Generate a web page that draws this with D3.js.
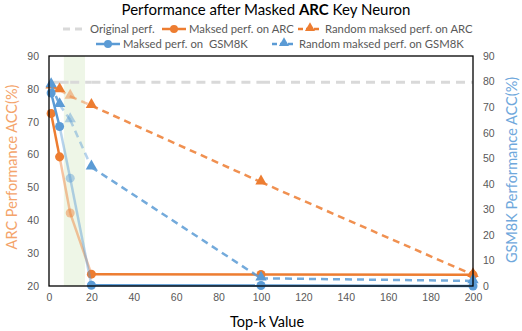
<!DOCTYPE html>
<html>
<head>
<meta charset="utf-8">
<script src="https://cdn.jsdelivr.net/npm/d3@7"></script>
<style>
  body { margin: 0; background: #fff; }
  svg { font-family: Lato, "Open Sans", sans-serif; }
</style>
</head>
<body>
<div id="chart"></div>
<script>
// data
var topK = [1, 5, 10, 20, 100, 200],
    originalPerf = [82, 82, 82, 82, 82, 82],
    maskedArc = [72.5, 59.3, 42.2, 23.6, 23.5, 23.4],
    randomArc = [80.8, 79.7, 77.7, 74.9, 51.6, 23.4],
    maskedGsm = [75.5, 62.4, 42.2, 0.3, 0.2, 0],
    randomGsm = [78.7, 70.9, 65.0, 46.5, 3.0, 2.0],
    highlightBand = [7, 17],
    fadedPoints = [10],
    fadedSegmentEnds = [10, 20],
    xTicks = d3.range(0, 201, 20),
    leftTicks = d3.range(20, 91, 10),
    rightTicks = d3.range(0, 91, 10);

var width = 522, height = 331,
    margin = {top: 56, right: 49, bottom: 45, left: 49},
    orange = '#ed7d31', blue = '#5b9bd5', grey = '#595959';

var svg = d3.select('#chart').append('svg')
    .attr('width', width)
    .attr('height', height);

var x = d3.scaleLinear().domain([0, 200]).range([margin.left, width - margin.right]),
    yLeft = d3.scaleLinear().domain([20, 90]).range([height - margin.bottom, margin.top]),
    yRight = d3.scaleLinear().domain([0, 90]).range([height - margin.bottom, margin.top]);

// green highlight band
svg.append('rect')
    .attr('x', x(highlightBand[0]))
    .attr('y', margin.top)
    .attr('width', x(highlightBand[1]) - x(highlightBand[0]))
    .attr('height', height - margin.bottom - margin.top)
    .attr('fill', '#eef6e7');

// axes (labels only, no tick marks)
var xAxis = svg.append('g')
    .attr('transform', 'translate(0,' + (height - margin.bottom) + ')')
    .call(d3.axisBottom(x).tickValues(xTicks).tickSize(0).tickPadding(8));
var lAxis = svg.append('g')
    .attr('transform', 'translate(' + margin.left + ',0)')
    .call(d3.axisLeft(yLeft).tickValues(leftTicks).tickSize(0).tickPadding(10));
var rAxis = svg.append('g')
    .attr('transform', 'translate(' + (width - margin.right) + ',0)')
    .call(d3.axisRight(yRight).tickValues(rightTicks).tickSize(0).tickPadding(10));
[xAxis, lAxis, rAxis].forEach(function(a) {
    a.select('.domain').remove();
    a.selectAll('text').attr('fill', grey).style('font-size', '10.5px').style('font-family', 'inherit');
});

// series
var series = [
    {name: 'Original perf.', values: originalPerf, y: yLeft, color: '#d9d9d9', dash: '9,6', marker: null, width: 3},
    {name: 'Maksed perf. on ARC', values: maskedArc, y: yLeft, color: orange, dash: null, marker: 'circle', width: 2.5},
    {name: 'Random maksed perf. on ARC', values: randomArc, y: yLeft, color: orange, dash: '7,5', marker: 'triangle', width: 2.5, lineOpacity: 0.85},
    {name: 'Maksed perf. on  GSM8K', values: maskedGsm, y: yRight, color: blue, dash: null, marker: 'circle', width: 2.5},
    {name: 'Random maksed perf. on GSM8K', values: randomGsm, y: yRight, color: blue, dash: '7,5', marker: 'triangle', width: 2.5, lineOpacity: 0.85}
];

var line = d3.line();

series.forEach(function(s) {
    var pts = topK.map(function(k, i) { return {k: k, v: s.values[i]}; }),
        g = svg.append('g');

    d3.pairs(pts).forEach(function(p) {
        var faded = s.marker && fadedSegmentEnds.indexOf(p[1].k) >= 0;
        g.append('path')
            .attr('d', line(p.map(function(d) { return [x(d.k), s.y(d.v)]; })))
            .attr('fill', 'none')
            .attr('stroke', s.color)
            .attr('stroke-width', s.width)
            .attr('stroke-dasharray', s.dash)
            .attr('stroke-opacity', faded ? 0.45 : (s.lineOpacity || 1));
    });

    if (!s.marker) return;
    var sym = d3.symbol().type(s.marker === 'circle' ? d3.symbolCircle : d3.symbolTriangle)
        .size(s.marker === 'circle' ? 64 : 56);
    g.selectAll('.pt')
        .data(pts)
        .enter()
        .append('path')
        .attr('class', 'pt')
        .attr('d', sym)
        .attr('transform', function(d) {
            return 'translate(' + x(d.k) + ',' + (s.y(d.v) + (s.marker === 'triangle' ? -1 : 0)) + ')';
        })
        .attr('fill', s.color)
        .attr('fill-opacity', function(d) { return fadedPoints.indexOf(d.k) >= 0 ? 0.45 : 1; });
});

// plot frame
svg.append('rect')
    .attr('x', margin.left)
    .attr('y', margin.top)
    .attr('width', width - margin.left - margin.right)
    .attr('height', height - margin.top - margin.bottom)
    .attr('fill', 'none')
    .attr('stroke', '#000')
    .attr('stroke-width', 1.3);

// title
var title = svg.append('text')
    .attr('x', 266)
    .attr('y', 15)
    .attr('text-anchor', 'middle')
    .style('font-size', '15px')
    .attr('fill', '#000');
title.append('tspan').text('Performance after Masked ');
title.append('tspan').attr('font-weight', 'bold').text('ARC');
title.append('tspan').text(' Key Neuron');

// legend
var legendPos = [[63, 29], [162, 29], [298, 29], [96, 44], [272, 44]];
series.forEach(function(s, i) {
    var g = svg.append('g').attr('transform', 'translate(' + legendPos[i][0] + ',' + legendPos[i][1] + ')');
    g.append('line')
        .attr('x1', 0).attr('x2', 24)
        .attr('stroke', s.color)
        .attr('stroke-width', s.marker ? 2.5 : 3)
        .attr('stroke-dasharray', s.dash ? (s.marker ? '5,3' : '7,5') : null);
    if (s.marker) {
        g.append('path')
            .attr('d', d3.symbol().type(s.marker === 'circle' ? d3.symbolCircle : d3.symbolTriangle).size(s.marker === 'circle' ? 50 : 44))
            .attr('transform', 'translate(12,' + (s.marker === 'triangle' ? -1 : 0) + ')')
            .attr('fill', s.color);
    }
    g.append('text')
        .attr('x', 27)
        .attr('dy', '0.35em')
        .attr('fill', grey)
        .style('font-size', '11.3px')
        .style('white-space', 'pre')
        .text(s.name);
});

// axis titles
svg.append('text')
    .attr('transform', 'translate(12,' + 167 + ') rotate(-90)')
    .attr('text-anchor', 'middle')
    .attr('dy', '0.35em')
    .attr('fill', '#f4a46b')
    .style('font-size', '14.5px')
    .text('ARC Performance ACC(%)');
svg.append('text')
    .attr('transform', 'translate(512,' + 170 + ') rotate(-90)')
    .attr('text-anchor', 'middle')
    .attr('dy', '0.35em')
    .attr('fill', '#6fa8dc')
    .style('font-size', '14.5px')
    .text('GSM8K Performance ACC(%)');
svg.append('text')
    .attr('x', 267)
    .attr('y', 327)
    .attr('text-anchor', 'middle')
    .attr('fill', '#000')
    .style('font-size', '14.5px')
    .text('Top-k Value');
</script>
</body>
</html>
